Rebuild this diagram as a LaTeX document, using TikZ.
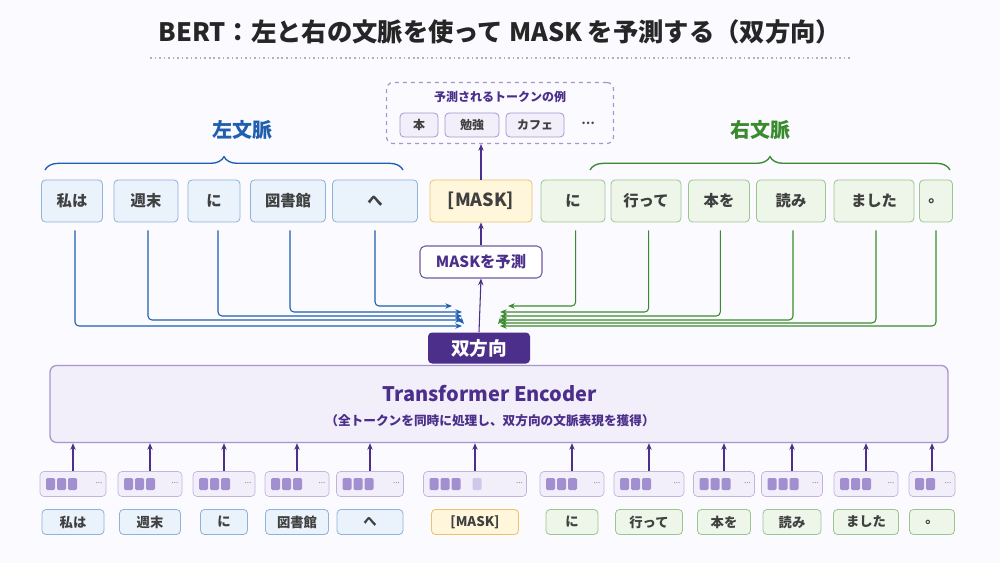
\documentclass[tikz,border=0pt]{standalone}
\usepackage{fontspec}
\setmainfont{Noto Sans CJK JP}
\usetikzlibrary{decorations.pathreplacing,arrows.meta}
\definecolor{bl}{HTML}{1F5FAE}\definecolor{blf}{HTML}{EAF3FC}\definecolor{bld}{HTML}{8EB2D8}
\definecolor{gr}{HTML}{3A8A2E}\definecolor{grf}{HTML}{EDF6E8}\definecolor{grd}{HTML}{9CC68F}
\definecolor{pu}{HTML}{4B2F8A}\definecolor{puf}{HTML}{F2EEFA}\definecolor{pud}{HTML}{A895CF}
\definecolor{ye}{HTML}{FFF6DC}\definecolor{yed}{HTML}{E8C46A}\definecolor{sq}{HTML}{A28FD0}
\tikzset{
 tk/.style={draw, rounded corners=3pt, line width=0.6pt, inner sep=0pt, font=\fontsize{11.5}{12}\selectfont\bfseries, text=black!75},
 L/.style={tk, fill=blf, draw=bld}, R/.style={tk, fill=grf, draw=grd}, M/.style={tk, fill=ye, draw=yed},
 emb/.style={draw=pud!70, fill=puf, rounded corners=3pt, line width=0.5pt, inner sep=0pt},
 ar/.style={-{Stealth[length=5pt,width=4pt]}, line width=0.8pt},
 la/.style={ar, bl, rounded corners=3pt}, ra/.style={ar, gr, rounded corners=3pt},
}
\newcommand{\tk}[7]{\node[#6, minimum width=#4*0.75pt, minimum height=#5*0.75pt] (#1) at (#2,#3) {#7};}
\begin{document}
\begin{tikzpicture}[x=0.75pt,y=-0.75pt]
\useasboundingbox (0,0) rectangle (1000,563);
\fill[white!98!blue] (0,0) rectangle (1000,563);
\node[font=\fontsize{19}{20}\selectfont\bfseries, text=black!85] (title) at (500,32) {BERT：左と右の文脈を使って MASK を予測する（双方向）};
\draw[black!30, line width=1.2pt, dash pattern=on 1.2pt off 2.2pt] (150,58) -- (850,58);
% top tokens
\tk{a1}{72}{201}{61}{42}{L}{私は}
\tk{a2}{146}{201}{64}{42}{L}{週末}
\tk{a3}{214}{201}{52}{42}{L}{に}
\tk{a4}{288}{201}{75}{42}{L}{図書館}
\tk{a5}{375}{201}{85}{42}{L}{へ}
\tk{am}{481}{201}{102}{42}{M}{\fontsize{13.5}{14}\selectfont [MASK]}
\tk{b1}{573}{201}{64}{42}{R}{に}
\tk{b2}{646}{201}{70}{42}{R}{行って}
\tk{b3}{719}{201}{61}{42}{R}{本を}
\tk{b4}{791}{201}{69}{42}{R}{読み}
\tk{b5}{874}{201}{80}{42}{R}{ました}
\tk{b6}{936}{201}{33}{42}{R}{。}
% braces
\draw[bl, line width=1pt, decorate, decoration={brace, amplitude=10pt}] (45,170) -- (403,170);
\node[bl, font=\fontsize{15}{16}\selectfont\bfseries] (lc) at (242,130) {左文脈};
\draw[gr, line width=1pt, decorate, decoration={brace, amplitude=10pt}] (590,170) -- (950,170);
\node[gr, font=\fontsize{15}{16}\selectfont\bfseries] (rc) at (760,130) {右文脈};
% predicted
\node[draw=pud, dashed, rounded corners=5pt, line width=0.9pt, minimum width=227*0.75pt, minimum height=61*0.75pt] (pred) at (500,113) {};
\node[pu, font=\fontsize{9}{10}\selectfont\bfseries] (pt) at (500,97) {予測されるトークンの例};
\tk{p1}{419}{125}{38}{24}{tk, fill=puf, draw=pud, font=\fontsize{9}{10}\selectfont\bfseries}{本}
\tk{p2}{472}{125}{54}{24}{tk, fill=puf, draw=pud, font=\fontsize{9}{10}\selectfont\bfseries}{勉強}
\tk{p3}{535}{125}{58}{24}{tk, fill=puf, draw=pud, font=\fontsize{9}{10}\selectfont\bfseries}{カフェ}
\node[font=\fontsize{9}{10}\selectfont\bfseries, text=black!70] (pd) at (588,123) {⋯};
\draw[ar, pu] (am.north) -- (am.north |- pred.south);
% middle
\node[draw=pu!80, fill=white, rounded corners=4pt, line width=0.8pt, minimum width=122*0.75pt, minimum height=32*0.75pt, text=pu, font=\fontsize{11.5}{12}\selectfont\bfseries] (mp) at (481,262) {MASKを予測};
\node[fill=pu, rounded corners=3pt, minimum width=102*0.75pt, minimum height=31*0.75pt, text=white, font=\fontsize{14}{15}\selectfont\bfseries] (bi) at (479,348) {双方向};
\draw[ar, pu] (mp.north) -- (am.south);
\draw[ar, pu] (bi.north) -- (mp.south);
% encoder
\node[draw=pud, fill=puf, rounded corners=5pt, line width=1pt, minimum width=898*0.75pt, minimum height=77*0.75pt] (enc) at (499,404) {};
\node[pu, font=\fontsize{15}{16}\selectfont\bfseries] (et) at (490,394) {Transformer Encoder};
\node[pu, font=\fontsize{9.5}{10}\selectfont\bfseries] (es) at (490,421) {（全トークンを同時に処理し、双方向の文脈表現を獲得）};
% left connectors
\coordinate (le) at (464,324);
\draw[la] (a1.south -| 75,0) ++(0,8) |- (462,326);
\draw[la] ([xshift=1.5pt]a2.south) ++(0,8) |- (462,320);
\draw[la] ([xshift=3pt]a3.south) ++(0,8) |- (462,316);
\draw[la] ([xshift=1.5pt]a4.south) ++(0,8) |- (462,312);
\draw[la] (a5.south) ++(0,8) |- (452,306);
\draw[ar, bl] (457,316) -- (le);
% right connectors
\coordinate (re) at (498,324);
\draw[ra] ([xshift=2pt]b1.south) ++(0,8) |- (508,306);
\draw[ra] ([xshift=2pt]b2.south) ++(0,8) |- (500,312);
\draw[ra] ([xshift=1pt]b3.south) ++(0,8) |- (500,316);
\draw[ra] ([xshift=1.5pt]b4.south) ++(0,8) |- (500,320);
\draw[ra] ([xshift=1.5pt]b5.south) ++(0,8) |- (500,323);
\draw[ra] (b6.south) ++(0,8) |- (500,326);
\draw[ar, gr] (506,314) -- (re);
% bottom
\foreach \n/\cx/\w/\tw/\t/\s/\nq in {1/73/66/62/私は/L/2, 2/150/64/61/週末/L/2, 3/224/62/47/に/L/2, 4/297/64/63/図書館/L/2, 5/370/67/66/へ/L/2, 6/475/103/87/{[MASK]}/M/2, 7/572/64/52/に/R/2, 8/649/70/67/行って/R/2, 9/724/61/53/本を/R/2, 10/792/61/58/読み/R/2, 11/866/64/65/ました/R/2, 12/932/46/45/。/R/1}{
  \node[emb, minimum width=\w*0.75pt, minimum height=25*0.75pt] (e\n) at (\cx,484) {};
  \node[\s, minimum width=\tw*0.75pt, minimum height=25*0.75pt, font=\fontsize{10}{10}\selectfont\bfseries] (t\n) at (\cx,522) {\t};
  \draw[ar, pu] (e\n.north) -- (enc.south -| e\n.north);
  \foreach \k in {0,...,\nq}{\fill[sq, rounded corners=1pt] (\cx-\w/2+6+\k*11,478) rectangle ++(9,12);}
  \node[font=\fontsize{6}{6}\selectfont, text=black!50, inner sep=0pt] (d\n) at (\cx+\w/2-7,483) {...};
}
\fill[sq!50, rounded corners=1pt] (475-103/2+6+3*11+10,478) rectangle ++(9,12);
\end{tikzpicture}
\end{document}
